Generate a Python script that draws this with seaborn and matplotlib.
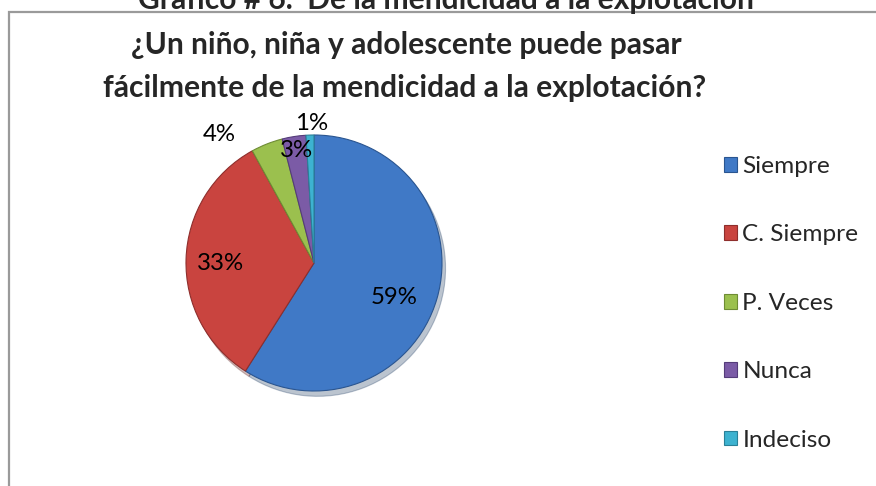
import matplotlib
matplotlib.use("Agg")
import matplotlib.pyplot as plt
import seaborn as sns
from matplotlib.patches import Rectangle
import numpy as np

categories = ["Siempre", "C. Siempre", "P. Veces", "Nunca", "Indeciso"]
values = [59, 33, 4, 3, 1]
colors = ["#4079C6", "#C9443F", "#9BC04E", "#7B5BA6", "#3DB2D0"]
edge_colors = ["#2A5590", "#8E2E2C", "#6E8C34", "#553C7A", "#2A8098"]
title_top = "Gráfico # 6.  De la mendicidad a la explotación"
title_l1 = "¿Un niño, niña y adolescente puede pasar"
title_l2 = "fácilmente de la mendicidad a la explotación?"

sns.set_theme(style="white")
plt.rcParams["font.family"] = ["Lato", "DejaVu Sans"]

W, H = 876, 486
fig = plt.figure(figsize=(W / 100, H / 100), dpi=100)
fig.patch.set_facecolor("white")

# frame
fig.patches.append(Rectangle((9 / W, -0.1), 1.2, 1 - 12 / H + 0.1, transform=fig.transFigure,
                             fill=False, edgecolor="#9a9a9a", lw=1.6))

fig.text(446 / W, 1 - 8.5 / H, title_top, ha="center", va="baseline", fontsize=21.6,
         fontweight="bold")
fig.text(406 / W, 1 - 45 / H, title_l1, ha="center", va="center", fontsize=21.6, fontweight="bold")
fig.text(405 / W, 1 - 88 / H, title_l2, ha="center", va="center", fontsize=21.6, fontweight="bold")

cx, cy, r = 314, 263, 128
ax = fig.add_axes([(cx - r) / W, 1 - (cy + r) / H, 2 * r / W, 2 * r / H])
wedges, texts = ax.pie(values, colors=colors, startangle=90, counterclock=False,
                       wedgeprops=dict(linewidth=0.8),
                       shadow=dict(ox=0.02, oy=-0.03, shade=0.5, alpha=0.3))
for w, ec in zip(wedges, edge_colors):
    w.set_edgecolor(ec)
ax.set_xlim(-1, 1)
ax.set_ylim(-1, 1)
ax.set_aspect("equal")
ax.axis("off")

dists = [0.68, 0.73, 1.25, 0.89, 1.09]
offsets = [-7.4, 1.8, 14.8, 0, -1]
for w, v, d, o in zip(wedges, values, dists, offsets):
    ang = np.deg2rad((w.theta1 + w.theta2) / 2 + o)
    ax.text(d * np.cos(ang), d * np.sin(ang), f"{v}%", ha="center", va="center",
            fontsize=17.3, color="black")

leg = fig.legend(wedges, categories, loc="upper left", bbox_to_anchor=(702 / W, 1 - 134 / H),
                 frameon=False, fontsize=17.6, handlelength=0.55, handleheight=0.55,
                 handletextpad=0.2, labelspacing=1.94)

fig.savefig("out.png", dpi=100)
